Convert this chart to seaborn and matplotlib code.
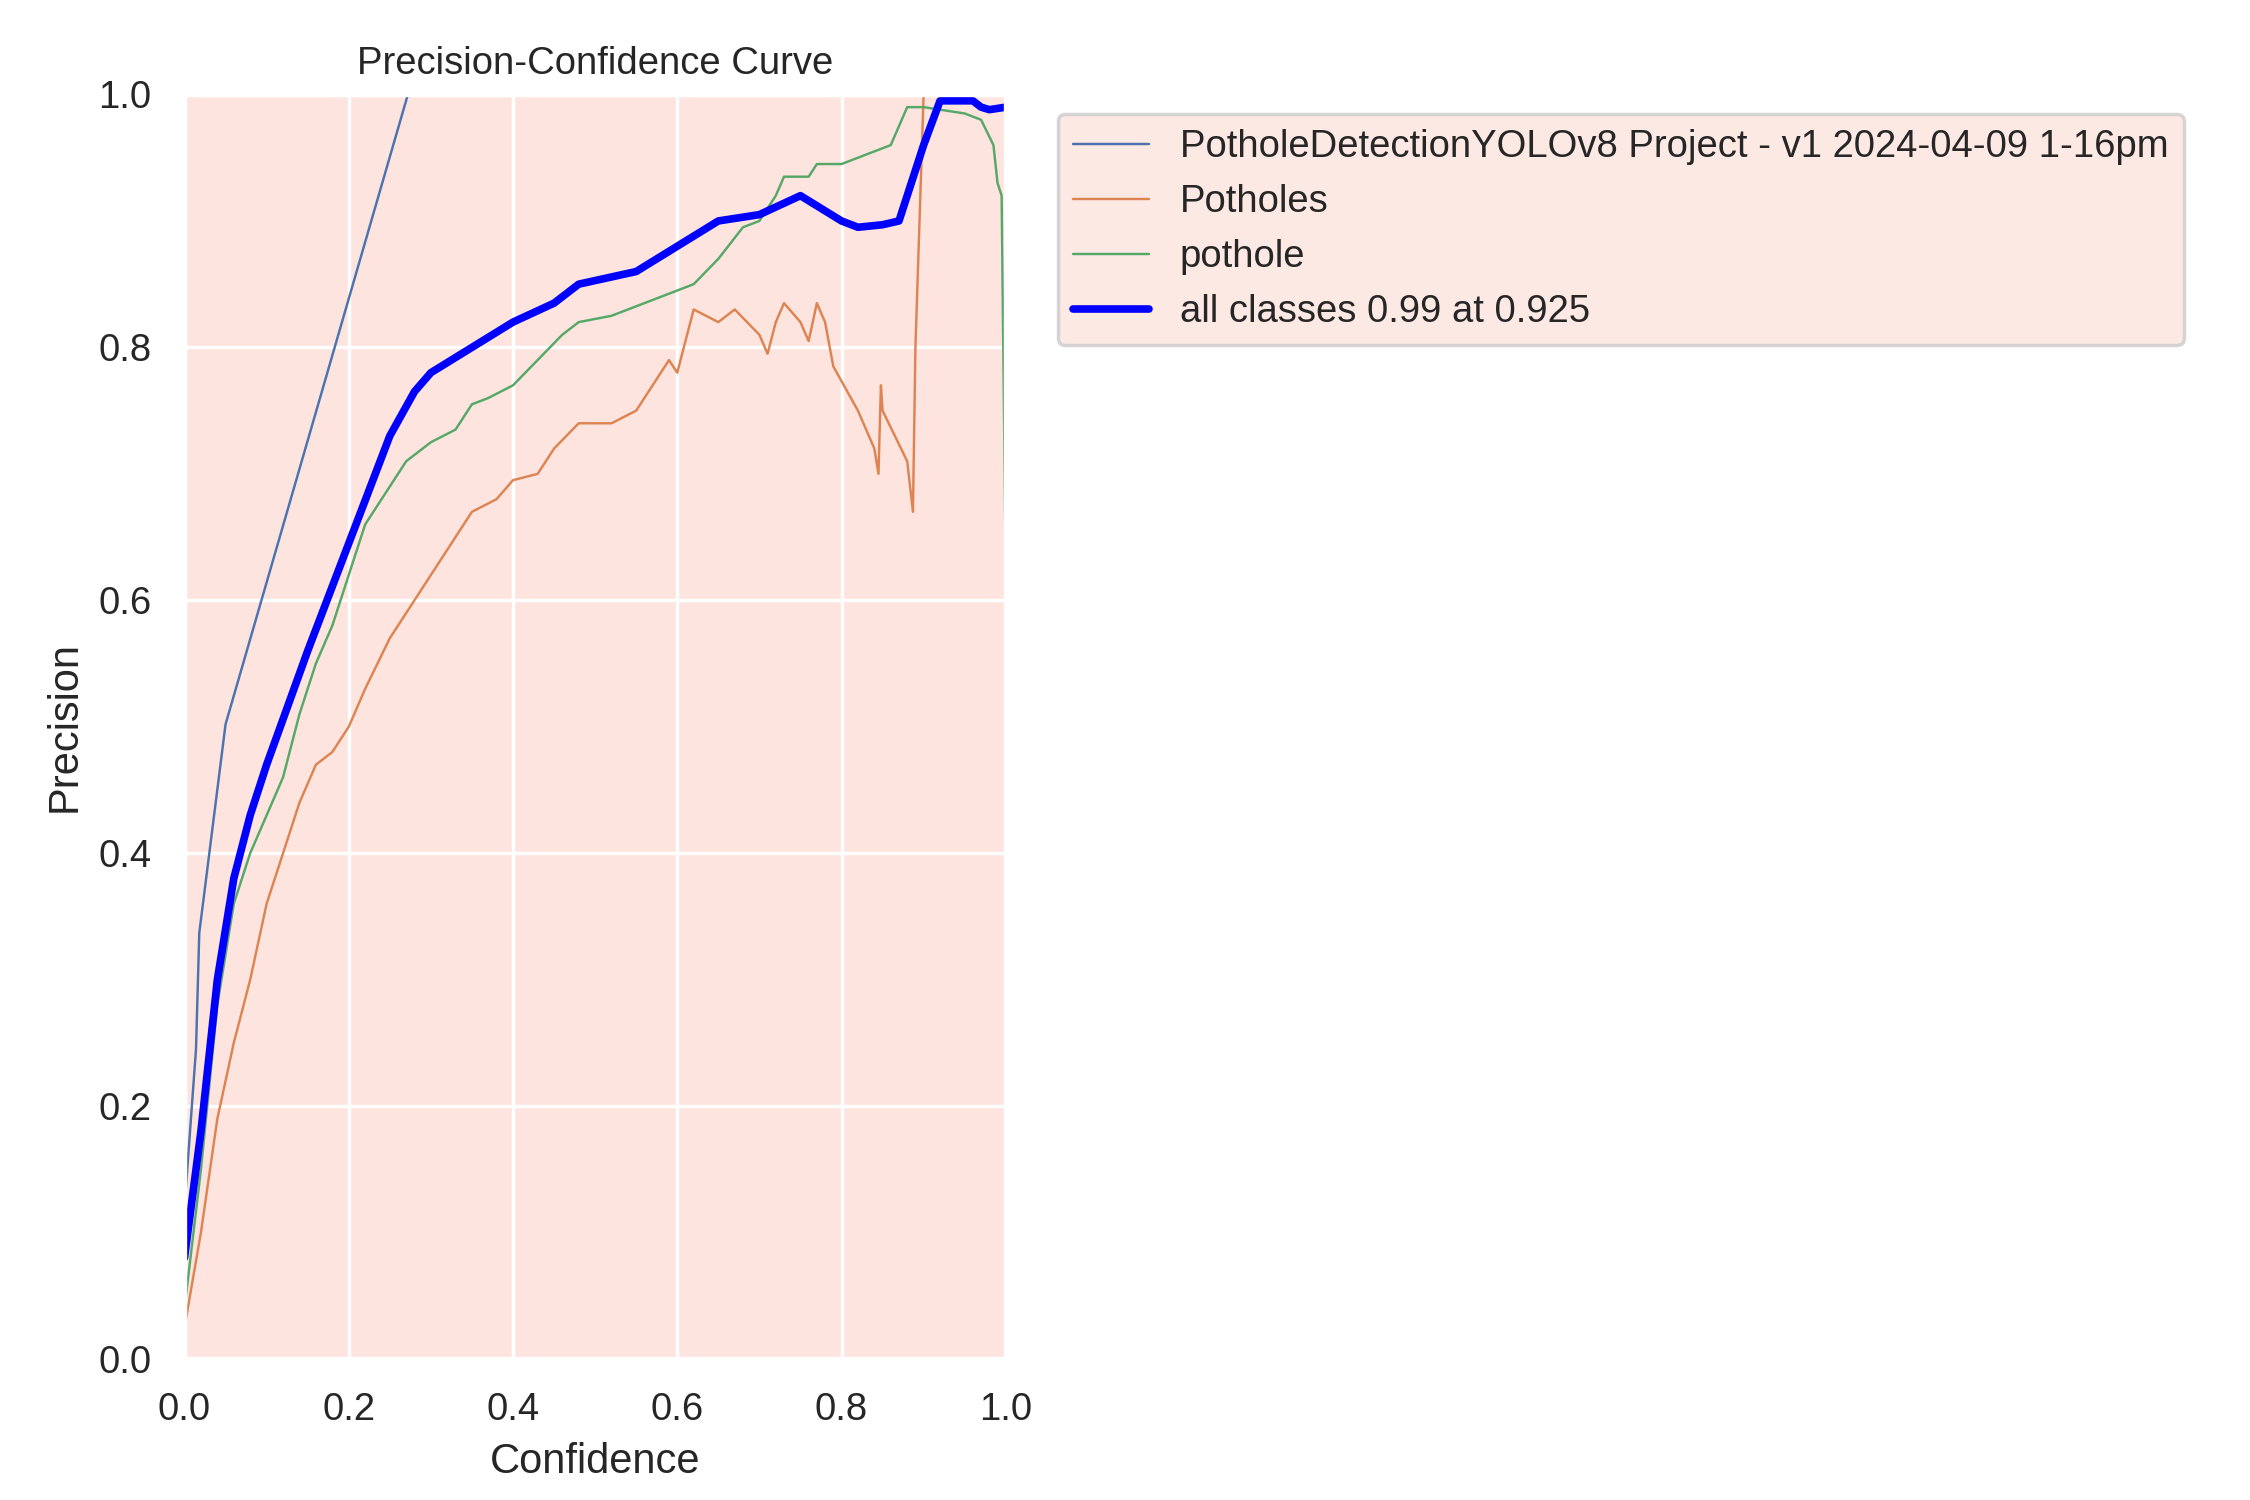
import numpy as np
import pandas as pd
import matplotlib
matplotlib.use("Agg")
import matplotlib.pyplot as plt
import seaborn as sns

names = ["PotholeDetectionYOLOv8 Project - v1 2024-04-09 1-16pm", "Potholes", "pothole"]

c1_x = [0.0, 0.014, 0.018, 0.05, 0.272, 0.3]
c1_y = [0.12, 0.245, 0.337, 0.502, 1.0, 1.1]

c2_x = [0, 0.02, 0.04, 0.06, 0.08, 0.1, 0.12, 0.14, 0.16, 0.18, 0.2, 0.22, 0.25, 0.28, 0.3, 0.32,
        0.35, 0.38, 0.4, 0.43, 0.45, 0.48, 0.52, 0.55, 0.57, 0.59, 0.6, 0.62, 0.65, 0.67, 0.7, 0.71,
        0.72, 0.73, 0.75, 0.76, 0.77, 0.78, 0.79, 0.82, 0.84, 0.845, 0.848, 0.85, 0.88, 0.887, 0.89,
        0.9, 0.92]
c2_y = [0.025, 0.1, 0.19, 0.25, 0.3, 0.36, 0.4, 0.44, 0.47, 0.48, 0.5, 0.53, 0.57, 0.6, 0.62, 0.64,
        0.67, 0.68, 0.695, 0.70, 0.72, 0.74, 0.74, 0.75, 0.77, 0.79, 0.78, 0.83, 0.82, 0.83, 0.81, 0.795,
        0.82, 0.835, 0.82, 0.805, 0.835, 0.82, 0.785, 0.75, 0.72, 0.70, 0.77, 0.75, 0.71, 0.67, 0.8,
        1.0, 1.05]

c3_x = [0, 0.02, 0.04, 0.06, 0.08, 0.1, 0.12, 0.14, 0.16, 0.18, 0.2, 0.22, 0.25, 0.27, 0.3, 0.33,
        0.35, 0.37, 0.4, 0.43, 0.46, 0.48, 0.52, 0.56, 0.6, 0.62, 0.65, 0.68, 0.7, 0.72, 0.73, 0.76,
        0.77, 0.8, 0.84, 0.86, 0.88, 0.9, 0.95, 0.97, 0.985, 0.99, 0.995, 1.0]
c3_y = [0.04, 0.15, 0.28, 0.36, 0.40, 0.43, 0.46, 0.51, 0.55, 0.58, 0.62, 0.66, 0.69, 0.71, 0.725, 0.735,
        0.755, 0.76, 0.77, 0.79, 0.81, 0.82, 0.825, 0.835, 0.845, 0.85, 0.87, 0.895, 0.90, 0.92, 0.935, 0.935,
        0.945, 0.945, 0.955, 0.96, 0.99, 0.99, 0.985, 0.98, 0.96, 0.93, 0.92, 0.62]

all_x = [0, 0.02, 0.04, 0.06, 0.08, 0.1, 0.15, 0.2, 0.25, 0.28, 0.3, 0.35, 0.4, 0.45, 0.48, 0.55,
         0.6, 0.65, 0.7, 0.75, 0.8, 0.82, 0.85, 0.87, 0.9, 0.92, 0.96, 0.97, 0.98, 1.0]
all_y = [0.08, 0.18, 0.30, 0.38, 0.43, 0.47, 0.56, 0.645, 0.73, 0.765, 0.78, 0.80, 0.82, 0.835, 0.85, 0.86,
         0.88, 0.90, 0.905, 0.92, 0.90, 0.895, 0.897, 0.90, 0.96, 0.995, 0.995, 0.99, 0.988, 0.99]

sns.set_theme(style="darkgrid", rc={"axes.facecolor": "#fde4de"})
plt.rcParams['font.family'] = ['Arial', 'Liberation Sans', 'DejaVu Sans']
pal = sns.color_palette("deep")

fig, ax = plt.subplots(figsize=(9, 6), dpi=250)
for xs, ys, n, c in zip([c1_x, c2_x, c3_x], [c1_y, c2_y, c3_y], names, pal):
    sns.lineplot(x=xs, y=ys, ax=ax, linewidth=0.7, color=c, label=n, sort=False, estimator=None)
sns.lineplot(x=all_x, y=all_y, ax=ax, linewidth=2.2, color="blue", label="all classes 0.99 at 0.925",
             sort=False, estimator=None)

ax.set_xlim(0, 1)
ax.set_ylim(0, 1)
ax.set_xlabel("Confidence")
ax.set_ylabel("Precision")
ax.set_title("Precision-Confidence Curve", fontsize=11)
leg = ax.legend(bbox_to_anchor=(1.04, 1), loc="upper left", facecolor="#fde4de")
fig.subplots_adjust(left=0.082, right=0.447, top=0.937, bottom=0.094)
fig.savefig("out.png", dpi=250)
